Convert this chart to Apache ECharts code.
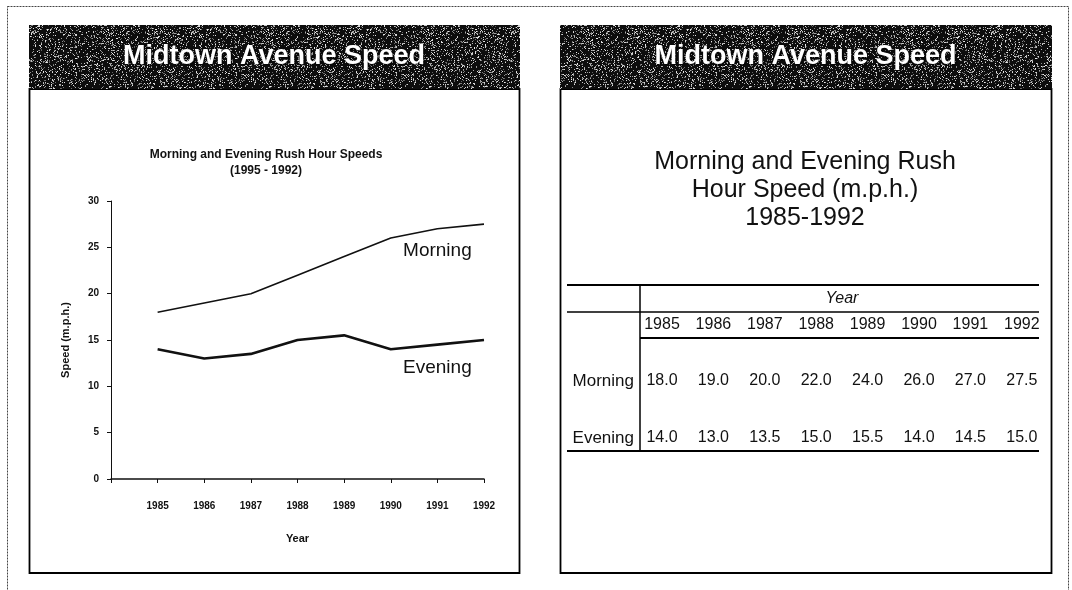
<!DOCTYPE html>
<html>
<head>
<meta charset="utf-8">
<script src="https://cdn.jsdelivr.net/npm/echarts@6/dist/echarts.min.js"></script>
<style>
  html, body { margin: 0; padding: 0; background: #fff; }
  #chart { width: 1072px; height: 590px; }
</style>
</head>
<body>
<div id="chart"></div>
<script>
// Rush hour speeds on Midtown Avenue, 1985-1992 (m.p.h.)
const years = [1985, 1986, 1987, 1988, 1989, 1990, 1991, 1992];
const morning = [18.0, 19.0, 20.0, 22.0, 24.0, 26.0, 27.0, 27.5];
const evening = [14.0, 13.0, 13.5, 15.0, 15.5, 14.0, 14.5, 15.0];
const seriesNames = ['Morning', 'Evening'];

const panelTitle = 'Midtown Avenue Speed';
const chartTitle = ['Morning and Evening Rush Hour Speeds', '(1995 - 1992)'];
const tableTitle = ['Morning and Evening Rush', 'Hour Speed (m.p.h.)', '1985-1992'];
const yAxisName = 'Speed (m.p.h.)';
const xAxisName = 'Year';
const labelYear = 1991;          // year under which the line names sit

const FONT = '"Liberation Sans", Arial, sans-serif';

// Dark speckled fill for the panel headers (deterministic grain)
function grainCanvas(w, h) {
  const c = document.createElement('canvas');
  c.width = w; c.height = h;
  const g = c.getContext('2d');
  g.fillStyle = '#0d0d0d';
  g.fillRect(0, 0, w, h);
  let s = 12345;
  const next = () => { s = (s * 1103515245 + 12345) & 0x7fffffff; return s / 0x7fffffff; };
  for (let i = 0; i < w * h * 0.22; i++) {
    const x = Math.floor(next() * w), y = Math.floor(next() * h);
    const v = Math.floor(90 + next() * 150);
    g.fillStyle = 'rgb(' + v + ',' + v + ',' + v + ')';
    g.fillRect(x, y, 1, 1);
  }
  return c;
}
const grain = grainCanvas(160, 64);

const chart = echarts.init(document.getElementById('chart'), null, { renderer: 'canvas' });

const panels = [
  { x: 29, w: 490 },
  { x: 560, w: 491 }
];
const headTop = 25, headH = 64, bodyBottom = 573;

const graphics = [];
// page frame
graphics.push({
  type: 'rect', z: 1, silent: true,
  shape: { x: 7.5, y: 6.5, width: 1061, height: 600 },
  style: { fill: '#fff', stroke: '#444', lineWidth: 1, lineDash: [2, 1] }
});
panels.forEach(p => {
  graphics.push({
    type: 'rect', z: 2, silent: true,
    shape: { x: p.x + 0.5, y: headTop + headH, width: p.w, height: bodyBottom - headTop - headH },
    style: { fill: '#fff', stroke: '#000', lineWidth: 1.8 }
  });
  graphics.push({
    type: 'rect', z: 2, silent: true,
    shape: { x: p.x, y: headTop, width: p.w + 1, height: headH },
    style: { fill: { image: grain, repeat: 'repeat' } }
  });
  graphics.push({
    type: 'text', z: 3, silent: true,
    style: {
      text: panelTitle, x: p.x + p.w / 2, y: headTop + 32,
      textAlign: 'center', textVerticalAlign: 'middle',
      font: 'bold 27px ' + FONT, fill: '#fff',
      textShadowColor: '#000', textShadowBlur: 3, textShadowOffsetX: 1, textShadowOffsetY: 1
    }
  });
});

// left chart heading
chartTitle.forEach((t, i) => {
  graphics.push({
    type: 'text', z: 3, silent: true,
    style: { text: t, x: 266, y: 155 + i * 16, textAlign: 'center', textVerticalAlign: 'middle',
             font: 'bold 12px ' + FONT, fill: '#111' }
  });
});

// right panel: heading and table
tableTitle.forEach((t, i) => {
  graphics.push({
    type: 'text', z: 3, silent: true,
    style: { text: t, x: 805, y: 162 + i * 28, textAlign: 'center', textVerticalAlign: 'middle',
             font: '25px ' + FONT, fill: '#111' }
  });
});

const tbl = { left: 567, right: 1039, split: 640, top: 285, yearLine: 312, headLine: 338, bottom: 451,
              col0: 662, colStep: 51.4, rowYear: 299, rowYears: 325, rowMorning: 381, rowEvening: 438 };
const hLine = (x1, x2, y, w) => ({ type: 'line', z: 3, silent: true,
  shape: { x1: x1, y1: y, x2: x2, y2: y }, style: { stroke: '#000', lineWidth: w } });
graphics.push(hLine(tbl.left, tbl.right, tbl.top, 2.2));
graphics.push(hLine(tbl.left, tbl.right, tbl.yearLine, 1.6));
graphics.push(hLine(tbl.split, tbl.right, tbl.headLine, 2));
graphics.push(hLine(tbl.left, tbl.right, tbl.bottom, 2));
graphics.push({ type: 'line', z: 3, silent: true,
  shape: { x1: tbl.split, y1: tbl.top, x2: tbl.split, y2: tbl.bottom },
  style: { stroke: '#000', lineWidth: 1.5 } });

const cellFont = '16px ' + FONT;
graphics.push({ type: 'text', z: 3, silent: true,
  style: { text: xAxisName, x: tbl.col0 + tbl.colStep * (years.length - 1) / 2, y: tbl.rowYear,
           textAlign: 'center', textVerticalAlign: 'middle', font: 'italic ' + cellFont, fill: '#111' } });
const rows = [
  { name: seriesNames[0], vals: morning, y: tbl.rowMorning },
  { name: seriesNames[1], vals: evening, y: tbl.rowEvening }
];
years.forEach((yr, i) => {
  const cx = tbl.col0 + tbl.colStep * i;
  graphics.push({ type: 'text', z: 3, silent: true,
    style: { text: String(yr), x: cx, y: tbl.rowYears, textAlign: 'center', textVerticalAlign: 'middle',
             font: cellFont, fill: '#111' } });
  rows.forEach(r => {
    graphics.push({ type: 'text', z: 3, silent: true,
      style: { text: r.vals[i].toFixed(1), x: cx, y: r.y, textAlign: 'center', textVerticalAlign: 'middle',
               font: cellFont, fill: '#111' } });
  });
});
rows.forEach(r => {
  graphics.push({ type: 'text', z: 3, silent: true,
    style: { text: r.name, x: tbl.split - 6, y: r.y, textAlign: 'right', textVerticalAlign: 'middle',
             font: '17px ' + FONT, fill: '#111' } });
});

const labelIdx = years.indexOf(labelYear);
const lineSeries = (name, vals, width, dist) => ({
  type: 'line', name: name, z: 10,
  data: years.map((y, i) => [y, vals[i]]),
  showSymbol: true, symbol: 'circle', symbolSize: 0, smooth: false,
  itemStyle: { color: '#111' },
  lineStyle: { color: '#111', width: width },
  label: {
    show: true, position: 'bottom', distance: dist,
    formatter: p => p.dataIndex === labelIdx ? name : '',
    color: '#111', fontFamily: FONT, fontSize: 19
  },
  labelLayout: { hideOverlap: false },
  emphasis: { disabled: true },
  animation: false
});

const axisText = { color: '#111', fontFamily: FONT, fontSize: 10, fontWeight: 'bold' };

chart.setOption({
  animation: false,
  backgroundColor: '#fff',
  graphic: { elements: graphics },
  grid: { left: 111, top: 201, width: 373, height: 278, containLabel: false },
  xAxis: {
    type: 'value', min: 1984, max: 1992, interval: 1, z: 8,
    name: xAxisName, nameLocation: 'middle', nameGap: 54,
    nameTextStyle: Object.assign({}, axisText, { fontSize: 11 }),
    axisLine: { show: true, lineStyle: { color: '#111', width: 1.5 } },
    axisTick: { show: true, inside: false, length: 4, lineStyle: { color: '#111' } },
    axisLabel: Object.assign({}, axisText, { margin: 22, formatter: v => (years.indexOf(v) >= 0 ? String(v) : '') }),
    splitLine: { show: false }
  },
  yAxis: {
    type: 'value', min: 0, max: 30, interval: 5, z: 8,
    name: yAxisName, nameLocation: 'middle', nameGap: 40, nameRotate: 90,
    nameTextStyle: Object.assign({}, axisText, { fontSize: 11 }),
    axisLine: { show: true, lineStyle: { color: '#111', width: 1 } },
    axisTick: { show: true, inside: false, length: 4, lineStyle: { color: '#111' } },
    axisLabel: Object.assign({}, axisText, { margin: 12 }),
    splitLine: { show: false }
  },
  series: [
    lineSeries(seriesNames[0], morning, 1.6, 12),
    lineSeries(seriesNames[1], evening, 2.6, 14)
  ]
});
</script>
</body>
</html>
